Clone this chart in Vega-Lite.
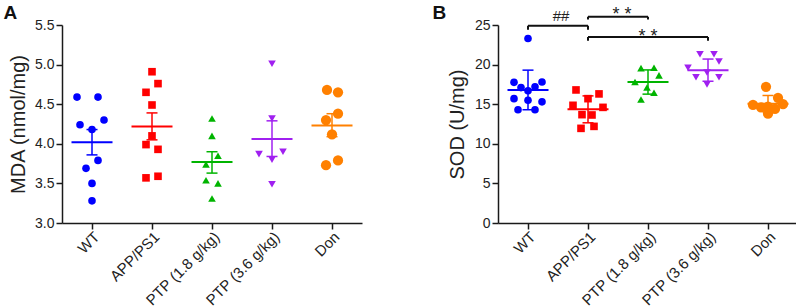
{
  "$schema": "https://vega.github.io/schema/vega-lite/v6.json",
  "padding": {"left": 3, "top": 4, "right": 0, "bottom": 0},
  "spacing": 70,
  "config": {
    "font": "Liberation Sans",
    "view": {"stroke": null},
    "axis": {"grid": false, "domainColor": "#1a1a1a", "domainWidth": 1.5, "tickColor": "#1a1a1a", "tickWidth": 1.5, "tickSize": 6, "labelFont": "Liberation Sans", "labelFontSize": 14, "labelColor": "#222222", "titleFont": "Liberation Sans", "titleFontSize": 20, "titleFontWeight": "normal", "titleColor": "#222222", "labelPadding": 2, "labelOverlap": false},
    "axisX": {"labelFontSize": 15},
    "title": {"font": "Liberation Sans", "fontSize": 19, "fontWeight": "bold", "anchor": "start", "frame": "bounds", "color": "#111111"}
  },
  "datasets": {
    "pts": [
      {"panel": "A", "group": "WT", "v": 4.59, "j": -15},
      {"panel": "A", "group": "WT", "v": 4.59, "j": 6},
      {"panel": "A", "group": "WT", "v": 4.24, "j": -12},
      {"panel": "A", "group": "WT", "v": 4.30, "j": 12},
      {"panel": "A", "group": "WT", "v": 4.18, "j": 0},
      {"panel": "A", "group": "WT", "v": 3.69, "j": -6},
      {"panel": "A", "group": "WT", "v": 3.79, "j": 6},
      {"panel": "A", "group": "WT", "v": 3.50, "j": 0},
      {"panel": "A", "group": "WT", "v": 3.28, "j": 0},
      {"panel": "A", "group": "APP/PS1", "v": 4.91, "j": 0},
      {"panel": "A", "group": "APP/PS1", "v": 4.76, "j": 6},
      {"panel": "A", "group": "APP/PS1", "v": 4.65, "j": -6},
      {"panel": "A", "group": "APP/PS1", "v": 4.49, "j": 0},
      {"panel": "A", "group": "APP/PS1", "v": 4.10, "j": 0},
      {"panel": "A", "group": "APP/PS1", "v": 3.99, "j": -6},
      {"panel": "A", "group": "APP/PS1", "v": 3.93, "j": 6},
      {"panel": "A", "group": "APP/PS1", "v": 3.57, "j": -6},
      {"panel": "A", "group": "APP/PS1", "v": 3.59, "j": 6},
      {"panel": "A", "group": "PTP (1.8 g/kg)", "v": 4.32, "j": 0},
      {"panel": "A", "group": "PTP (1.8 g/kg)", "v": 4.10, "j": 0},
      {"panel": "A", "group": "PTP (1.8 g/kg)", "v": 3.85, "j": 6},
      {"panel": "A", "group": "PTP (1.8 g/kg)", "v": 3.74, "j": -6},
      {"panel": "A", "group": "PTP (1.8 g/kg)", "v": 3.54, "j": -6},
      {"panel": "A", "group": "PTP (1.8 g/kg)", "v": 3.50, "j": 6},
      {"panel": "A", "group": "PTP (1.8 g/kg)", "v": 3.31, "j": 0},
      {"panel": "A", "group": "PTP (3.6 g/kg)", "v": 5.01, "j": 0},
      {"panel": "A", "group": "PTP (3.6 g/kg)", "v": 4.32, "j": 0},
      {"panel": "A", "group": "PTP (3.6 g/kg)", "v": 3.87, "j": -13},
      {"panel": "A", "group": "PTP (3.6 g/kg)", "v": 3.90, "j": 11},
      {"panel": "A", "group": "PTP (3.6 g/kg)", "v": 3.80, "j": 0},
      {"panel": "A", "group": "PTP (3.6 g/kg)", "v": 3.49, "j": 0},
      {"panel": "A", "group": "Don", "v": 4.68, "j": -5},
      {"panel": "A", "group": "Don", "v": 4.65, "j": 6},
      {"panel": "A", "group": "Don", "v": 4.38, "j": 6},
      {"panel": "A", "group": "Don", "v": 4.30, "j": -6},
      {"panel": "A", "group": "Don", "v": 4.12, "j": 0},
      {"panel": "A", "group": "Don", "v": 3.73, "j": -6},
      {"panel": "A", "group": "Don", "v": 3.79, "j": 6},
      {"panel": "B", "group": "WT", "v": 23.3, "j": 0},
      {"panel": "B", "group": "WT", "v": 17.76, "j": -14},
      {"panel": "B", "group": "WT", "v": 17.8, "j": 14},
      {"panel": "B", "group": "WT", "v": 17.1, "j": -7},
      {"panel": "B", "group": "WT", "v": 17.2, "j": 7},
      {"panel": "B", "group": "WT", "v": 16.7, "j": 0},
      {"panel": "B", "group": "WT", "v": 15.7, "j": -14},
      {"panel": "B", "group": "WT", "v": 15.3, "j": 14},
      {"panel": "B", "group": "WT", "v": 15.5, "j": 0},
      {"panel": "B", "group": "WT", "v": 14.3, "j": -10},
      {"panel": "B", "group": "WT", "v": 14.3, "j": 7},
      {"panel": "B", "group": "APP/PS1", "v": 16.8, "j": -12},
      {"panel": "B", "group": "APP/PS1", "v": 16.3, "j": 11},
      {"panel": "B", "group": "APP/PS1", "v": 15.7, "j": 0},
      {"panel": "B", "group": "APP/PS1", "v": 14.86, "j": -15},
      {"panel": "B", "group": "APP/PS1", "v": 14.6, "j": 15},
      {"panel": "B", "group": "APP/PS1", "v": 13.68, "j": -6},
      {"panel": "B", "group": "APP/PS1", "v": 13.64, "j": 4},
      {"panel": "B", "group": "APP/PS1", "v": 11.95, "j": -7},
      {"panel": "B", "group": "APP/PS1", "v": 12.2, "j": 6},
      {"panel": "B", "group": "PTP (1.8 g/kg)", "v": 19.55, "j": -7},
      {"panel": "B", "group": "PTP (1.8 g/kg)", "v": 19.6, "j": 6},
      {"panel": "B", "group": "PTP (1.8 g/kg)", "v": 18.64, "j": 11},
      {"panel": "B", "group": "PTP (1.8 g/kg)", "v": 17.8, "j": -13},
      {"panel": "B", "group": "PTP (1.8 g/kg)", "v": 17.1, "j": -1},
      {"panel": "B", "group": "PTP (1.8 g/kg)", "v": 16.45, "j": 6},
      {"panel": "B", "group": "PTP (1.8 g/kg)", "v": 15.6, "j": -7},
      {"panel": "B", "group": "PTP (3.6 g/kg)", "v": 21.3, "j": -8},
      {"panel": "B", "group": "PTP (3.6 g/kg)", "v": 21.3, "j": 6},
      {"panel": "B", "group": "PTP (3.6 g/kg)", "v": 20.4, "j": 11},
      {"panel": "B", "group": "PTP (3.6 g/kg)", "v": 19.6, "j": -20},
      {"panel": "B", "group": "PTP (3.6 g/kg)", "v": 18.4, "j": -12},
      {"panel": "B", "group": "PTP (3.6 g/kg)", "v": 19.0, "j": -1},
      {"panel": "B", "group": "PTP (3.6 g/kg)", "v": 18.4, "j": 11},
      {"panel": "B", "group": "PTP (3.6 g/kg)", "v": 17.5, "j": -1},
      {"panel": "B", "group": "Don", "v": 17.2, "j": -2},
      {"panel": "B", "group": "Don", "v": 15.8, "j": 10},
      {"panel": "B", "group": "Don", "v": 14.9, "j": -15},
      {"panel": "B", "group": "Don", "v": 15.0, "j": 15},
      {"panel": "B", "group": "Don", "v": 14.6, "j": -7},
      {"panel": "B", "group": "Don", "v": 14.4, "j": 7},
      {"panel": "B", "group": "Don", "v": 13.8, "j": 0},
      {"panel": "B", "group": "Don", "v": 14.7, "j": 0}
    ],
    "sum": [
      {"panel": "A", "group": "WT", "mean": 4.02, "lo": 3.86, "hi": 4.18},
      {"panel": "A", "group": "APP/PS1", "mean": 4.22, "lo": 4.05, "hi": 4.39},
      {"panel": "A", "group": "PTP (1.8 g/kg)", "mean": 3.77, "lo": 3.63, "hi": 3.90},
      {"panel": "A", "group": "PTP (3.6 g/kg)", "mean": 4.06, "lo": 3.84, "hi": 4.29},
      {"panel": "A", "group": "Don", "mean": 4.23, "lo": 4.09, "hi": 4.38},
      {"panel": "B", "group": "WT", "mean": 16.8, "lo": 14.3, "hi": 19.3},
      {"panel": "B", "group": "APP/PS1", "mean": 14.35, "lo": 12.65, "hi": 16.05},
      {"panel": "B", "group": "PTP (1.8 g/kg)", "mean": 17.8, "lo": 16.27, "hi": 19.33},
      {"panel": "B", "group": "PTP (3.6 g/kg)", "mean": 19.3, "lo": 17.9, "hi": 20.7},
      {"panel": "B", "group": "Don", "mean": 15.05, "lo": 14.0, "hi": 16.1}
    ],
    "brk": [
      {"g1": "WT", "g2": "APP/PS1", "y": 24.9},
      {"g1": "APP/PS1", "g2": "PTP (1.8 g/kg)", "y": 26.05},
      {"g1": "APP/PS1", "g2": "PTP (3.6 g/kg)", "y": 23.5}
    ],
    "brkTick": [
      {"g": "WT", "y": 24.9, "y2": 24.4},
      {"g": "APP/PS1", "y": 24.9, "y2": 24.4},
      {"g": "APP/PS1", "y": 26.05, "y2": 25.7},
      {"g": "PTP (1.8 g/kg)", "y": 26.05, "y2": 25.7},
      {"g": "APP/PS1", "y": 23.5, "y2": 23.0},
      {"g": "PTP (3.6 g/kg)", "y": 23.5, "y2": 23.0}
    ],
    "brkText": [
      {"g": "WT", "j": 33, "y": 25.53, "label": "##", "fs": "hash"},
      {"g": "APP/PS1", "j": 34, "y": 25.62, "label": "* *", "fs": "star"},
      {"g": "APP/PS1", "j": 60, "y": 22.9, "label": "* *", "fs": "star"}
    ]
  },
  "hconcat": [
    {
      "width": 300,
      "height": 198,
      "title": {"text": "A", "dx": -5, "offset": -5},
      "layer": [
        {
          "data": {"name": "pts"},
          "transform": [{"filter": "datum.panel === 'A' && datum.group !== 'Don'"}],
          "mark": {"type": "point", "filled": true, "opacity": 1, "size": 58},
          "encoding": {
            "x": {"field": "group", "type": "nominal", "title": null,
                  "scale": {"domain": ["WT", "APP/PS1", "PTP (1.8 g/kg)", "PTP (3.6 g/kg)", "Don"], "paddingInner": 0, "paddingOuter": 0},
                  "axis": {"labelAngle": -45, "title": null, "labelPadding": 0}},
            "xOffset": {"field": "j", "type": "quantitative", "scale": {"domain": [-30, 30]}},
            "y": {"field": "v", "type": "quantitative",
                  "scale": {"domain": [3, 5.5], "nice": false, "zero": false},
                  "axis": {"title": "MDA (nmol/mg)", "values": [3, 3.5, 4, 4.5, 5, 5.5], "tickCount": 6, "format": ".1f", "titlePadding": 6, "labelOverlap": false}},
            "color": {"field": "group", "type": "nominal", "legend": null,
                      "scale": {"domain": ["WT", "APP/PS1", "PTP (1.8 g/kg)", "PTP (3.6 g/kg)", "Don"], "range": ["#0000FF", "#FF0000", "#00B400", "#A020F0", "#FF8000"]}},
            "shape": {"field": "group", "type": "nominal", "legend": null,
                      "scale": {"domain": ["WT", "APP/PS1", "PTP (1.8 g/kg)", "PTP (3.6 g/kg)", "Don"], "range": ["circle", "square", "triangle-up", "triangle-down", "circle"]}}
          }
        },
        {
          "data": {"name": "pts"},
          "transform": [{"filter": "datum.panel === 'A' && datum.group === 'Don'"}],
          "mark": {"type": "point", "filled": true, "opacity": 1, "size": 105},
          "encoding": {
            "x": {"field": "group", "type": "nominal", "title": null},
            "xOffset": {"field": "j", "type": "quantitative"},
            "y": {"field": "v", "type": "quantitative", "axis": {"title": "MDA (nmol/mg)", "values": [3, 3.5, 4, 4.5, 5, 5.5], "tickCount": 6, "format": ".1f", "titlePadding": 6, "labelOverlap": false}},
            "color": {"field": "group", "type": "nominal", "legend": null},
            "shape": {"field": "group", "type": "nominal", "legend": null}
          }
        },
        {
          "data": {"name": "sum"},
          "transform": [{"filter": "datum.panel === 'A'"}],
          "mark": {"type": "rule", "strokeWidth": 1.5},
          "encoding": {
            "x": {"field": "group", "type": "nominal", "title": null},
            "y": {"field": "lo", "type": "quantitative", "axis": {"title": "MDA (nmol/mg)", "values": [3, 3.5, 4, 4.5, 5, 5.5], "tickCount": 6, "format": ".1f", "titlePadding": 6, "labelOverlap": false}},
            "y2": {"field": "hi"},
            "color": {"field": "group", "type": "nominal", "legend": null}
          }
        },
        {
          "data": {"name": "sum"},
          "transform": [{"filter": "datum.panel === 'A'"}],
          "mark": {"type": "tick", "orient": "horizontal", "size": 11, "thickness": 1.5, "opacity": 1},
          "encoding": {
            "x": {"field": "group", "type": "nominal", "title": null},
            "y": {"field": "lo", "type": "quantitative", "axis": {"title": "MDA (nmol/mg)", "values": [3, 3.5, 4, 4.5, 5, 5.5], "tickCount": 6, "format": ".1f", "titlePadding": 6, "labelOverlap": false}},
            "color": {"field": "group", "type": "nominal", "legend": null}
          }
        },
        {
          "data": {"name": "sum"},
          "transform": [{"filter": "datum.panel === 'A'"}],
          "mark": {"type": "tick", "orient": "horizontal", "size": 11, "thickness": 1.5, "opacity": 1},
          "encoding": {
            "x": {"field": "group", "type": "nominal", "title": null},
            "y": {"field": "hi", "type": "quantitative", "axis": {"title": "MDA (nmol/mg)", "values": [3, 3.5, 4, 4.5, 5, 5.5], "tickCount": 6, "format": ".1f", "titlePadding": 6, "labelOverlap": false}},
            "color": {"field": "group", "type": "nominal", "legend": null}
          }
        },
        {
          "data": {"name": "sum"},
          "transform": [{"filter": "datum.panel === 'A'"}],
          "mark": {"type": "tick", "orient": "horizontal", "size": 41, "thickness": 2, "opacity": 1},
          "encoding": {
            "x": {"field": "group", "type": "nominal", "title": null},
            "y": {"field": "mean", "type": "quantitative", "axis": {"title": "MDA (nmol/mg)", "values": [3, 3.5, 4, 4.5, 5, 5.5], "tickCount": 6, "format": ".1f", "titlePadding": 6, "labelOverlap": false}},
            "color": {"field": "group", "type": "nominal", "legend": null}
          }
        }
      ]
    },
    {
      "width": 300,
      "height": 198,
      "title": {"text": "B", "dx": -15, "offset": -17},
      "layer": [
        {
          "data": {"name": "pts"},
          "transform": [{"filter": "datum.panel === 'B' && datum.group !== 'Don'"}],
          "mark": {"type": "point", "filled": true, "opacity": 1, "size": 58},
          "encoding": {
            "x": {"field": "group", "type": "nominal", "title": null,
                  "scale": {"domain": ["WT", "APP/PS1", "PTP (1.8 g/kg)", "PTP (3.6 g/kg)", "Don"], "paddingInner": 0, "paddingOuter": 0},
                  "axis": {"labelAngle": -45, "title": null, "labelPadding": 0}},
            "xOffset": {"field": "j", "type": "quantitative", "scale": {"domain": [-30, 30]}},
            "y": {"field": "v", "type": "quantitative",
                  "scale": {"domain": [0, 25], "nice": false},
                  "axis": {"title": "SOD (U/mg)", "values": [0, 5, 10, 15, 20, 25], "tickCount": 6, "format": "d", "titlePadding": 7, "labelOverlap": false}},
            "color": {"field": "group", "type": "nominal", "legend": null,
                      "scale": {"domain": ["WT", "APP/PS1", "PTP (1.8 g/kg)", "PTP (3.6 g/kg)", "Don"], "range": ["#0000FF", "#FF0000", "#00B400", "#A020F0", "#FF8000"]}},
            "shape": {"field": "group", "type": "nominal", "legend": null,
                      "scale": {"domain": ["WT", "APP/PS1", "PTP (1.8 g/kg)", "PTP (3.6 g/kg)", "Don"], "range": ["circle", "square", "triangle-up", "triangle-down", "circle"]}}
          }
        },
        {
          "data": {"name": "pts"},
          "transform": [{"filter": "datum.panel === 'B' && datum.group === 'Don'"}],
          "mark": {"type": "point", "filled": true, "opacity": 1, "size": 105},
          "encoding": {
            "x": {"field": "group", "type": "nominal", "title": null},
            "xOffset": {"field": "j", "type": "quantitative"},
            "y": {"field": "v", "type": "quantitative", "axis": {"title": "SOD (U/mg)", "values": [0, 5, 10, 15, 20, 25], "tickCount": 6, "format": "d", "titlePadding": 7, "labelOverlap": false}},
            "color": {"field": "group", "type": "nominal", "legend": null},
            "shape": {"field": "group", "type": "nominal", "legend": null}
          }
        },
        {
          "data": {"name": "sum"},
          "transform": [{"filter": "datum.panel === 'B'"}],
          "mark": {"type": "rule", "strokeWidth": 1.5},
          "encoding": {
            "x": {"field": "group", "type": "nominal", "title": null},
            "y": {"field": "lo", "type": "quantitative", "axis": {"title": "SOD (U/mg)", "values": [0, 5, 10, 15, 20, 25], "tickCount": 6, "format": "d", "titlePadding": 7, "labelOverlap": false}},
            "y2": {"field": "hi"},
            "color": {"field": "group", "type": "nominal", "legend": null}
          }
        },
        {
          "data": {"name": "sum"},
          "transform": [{"filter": "datum.panel === 'B'"}],
          "mark": {"type": "tick", "orient": "horizontal", "size": 11, "thickness": 1.5, "opacity": 1},
          "encoding": {
            "x": {"field": "group", "type": "nominal", "title": null},
            "y": {"field": "lo", "type": "quantitative", "axis": {"title": "SOD (U/mg)", "values": [0, 5, 10, 15, 20, 25], "tickCount": 6, "format": "d", "titlePadding": 7, "labelOverlap": false}},
            "color": {"field": "group", "type": "nominal", "legend": null}
          }
        },
        {
          "data": {"name": "sum"},
          "transform": [{"filter": "datum.panel === 'B'"}],
          "mark": {"type": "tick", "orient": "horizontal", "size": 11, "thickness": 1.5, "opacity": 1},
          "encoding": {
            "x": {"field": "group", "type": "nominal", "title": null},
            "y": {"field": "hi", "type": "quantitative", "axis": {"title": "SOD (U/mg)", "values": [0, 5, 10, 15, 20, 25], "tickCount": 6, "format": "d", "titlePadding": 7, "labelOverlap": false}},
            "color": {"field": "group", "type": "nominal", "legend": null}
          }
        },
        {
          "data": {"name": "sum"},
          "transform": [{"filter": "datum.panel === 'B'"}],
          "mark": {"type": "tick", "orient": "horizontal", "size": 41, "thickness": 2, "opacity": 1},
          "encoding": {
            "x": {"field": "group", "type": "nominal", "title": null},
            "y": {"field": "mean", "type": "quantitative", "axis": {"title": "SOD (U/mg)", "values": [0, 5, 10, 15, 20, 25], "tickCount": 6, "format": "d", "titlePadding": 7, "labelOverlap": false}},
            "color": {"field": "group", "type": "nominal", "legend": null}
          }
        },
        {
          "data": {"name": "brk"},
          "mark": {"type": "rule", "strokeWidth": 2, "color": "#111111"},
          "encoding": {
            "x": {"field": "g1", "type": "nominal", "title": null},
            "x2": {"field": "g2"},
            "y": {"field": "y", "type": "quantitative", "axis": {"title": "SOD (U/mg)", "values": [0, 5, 10, 15, 20, 25], "tickCount": 6, "format": "d", "titlePadding": 7, "labelOverlap": false}}
          }
        },
        {
          "data": {"name": "brkTick"},
          "mark": {"type": "rule", "strokeWidth": 2, "color": "#111111"},
          "encoding": {
            "x": {"field": "g", "type": "nominal", "title": null},
            "y": {"field": "y", "type": "quantitative", "axis": {"title": "SOD (U/mg)", "values": [0, 5, 10, 15, 20, 25], "tickCount": 6, "format": "d", "titlePadding": 7, "labelOverlap": false}},
            "y2": {"field": "y2"}
          }
        },
        {
          "data": {"name": "brkText"},
          "transform": [{"filter": "datum.fs === 'hash'"}],
          "mark": {"type": "text", "fontSize": 15, "color": "#222222", "baseline": "alphabetic", "align": "center"},
          "encoding": {
            "x": {"field": "g", "type": "nominal", "title": null},
            "xOffset": {"field": "j", "type": "quantitative"},
            "y": {"field": "y", "type": "quantitative", "axis": {"title": "SOD (U/mg)", "values": [0, 5, 10, 15, 20, 25], "tickCount": 6, "format": "d", "titlePadding": 7, "labelOverlap": false}},
            "text": {"field": "label"}
          }
        },
        {
          "data": {"name": "brkText"},
          "transform": [{"filter": "datum.fs === 'star'"}],
          "mark": {"type": "text", "fontSize": 18, "color": "#222222", "baseline": "alphabetic", "align": "center"},
          "encoding": {
            "x": {"field": "g", "type": "nominal", "title": null},
            "xOffset": {"field": "j", "type": "quantitative"},
            "y": {"field": "y", "type": "quantitative", "axis": {"title": "SOD (U/mg)", "values": [0, 5, 10, 15, 20, 25], "tickCount": 6, "format": "d", "titlePadding": 7, "labelOverlap": false}},
            "text": {"field": "label"}
          }
        }
      ]
    }
  ]
}
